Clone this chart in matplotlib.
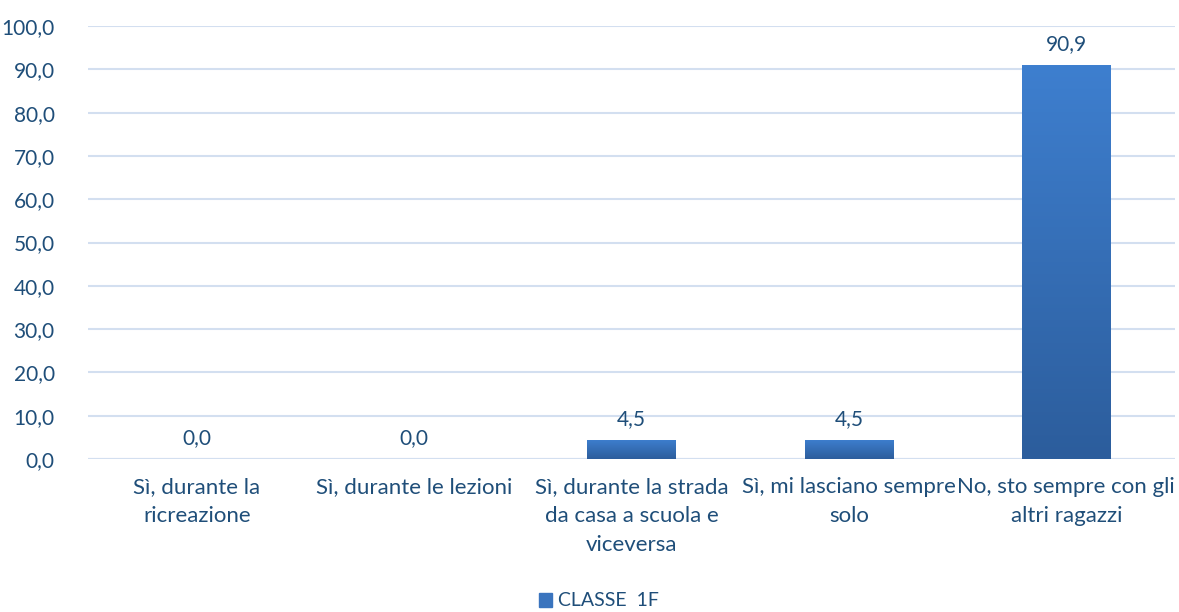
import numpy as np
import matplotlib.pyplot as plt
from matplotlib.colors import LinearSegmentedColormap

categorie = ["Sì, durante la\nricreazione", "Sì, durante le lezioni",
             "Sì, durante la strada\nda casa a scuola e\nviceversa",
             "Sì, mi lasciano sempre\nsolo", "No, sto sempre con gli\naltri ragazzi"]
valori = [0.0, 0.0, 4.5, 4.5, 90.9]
serie = "CLASSE  1F"

testo = "#1F4E79"
griglia = "#D3DFF0"
plt.rcParams['font.family'] = ['Lato', 'DejaVu Sans']

fig = plt.figure(figsize=(11.79, 6.12), dpi=100)
ax = fig.add_axes([88/1179, 1-459/612, (1175-88)/1179, (459-26)/612])

x = np.arange(len(valori))
bars = ax.bar(x, valori, width=0.405, color="#3A74BE", zorder=3)

# riempimento sfumato come in Excel
cmap = LinearSegmentedColormap.from_list("blu", ["#2C5D9C", "#3E7FCF"])
grad = np.linspace(0, 1, 256).reshape(-1, 1)
for b in bars:
    if b.get_height() <= 0:
        continue
    x0, y0 = b.get_x(), b.get_y()
    im = ax.imshow(grad, cmap=cmap, origin="lower", aspect="auto",
                   extent=[x0, x0 + b.get_width(), y0, y0 + b.get_height()], zorder=3)
    im.set_clip_path(b)
    b.set_facecolor("none")

for xi, v in zip(x, valori):
    ax.text(xi, v + 2.5, f"{v:.1f}".replace(".", ","), ha="center", va="bottom",
            fontsize=15, color=testo)

ax.set_xlim(-0.5, 4.5)
ax.set_ylim(0, 100)
ax.set_yticks(np.arange(0, 101, 10))
ax.set_yticklabels([f"{t:.1f}".replace(".", ",") for t in np.arange(0, 101, 10)])
ax.set_xticks(x)
ax.set_xticklabels(categorie, fontsize=16, linespacing=1.55)
ax.tick_params(axis="y", length=0, labelsize=15, labelcolor=testo, pad=24)
ax.tick_params(axis="x", length=0, labelcolor=testo, pad=13)
ax.grid(axis="y", color=griglia, linewidth=1.5, zorder=0)
for s in ax.spines.values():
    s.set_visible(False)
ax.axhline(0, color=griglia, linewidth=1.5, zorder=2)

fig.legend(handles=[plt.Rectangle((0, 0), 1, 1, color="#3A74BE")], labels=[serie],
           loc="center", bbox_to_anchor=(599/1179, 1-601/612), frameon=False,
           fontsize=14, labelcolor=testo, handlelength=0.7, handleheight=0.7,
           handletextpad=0.3)

fig.savefig("out.png", dpi=100)
